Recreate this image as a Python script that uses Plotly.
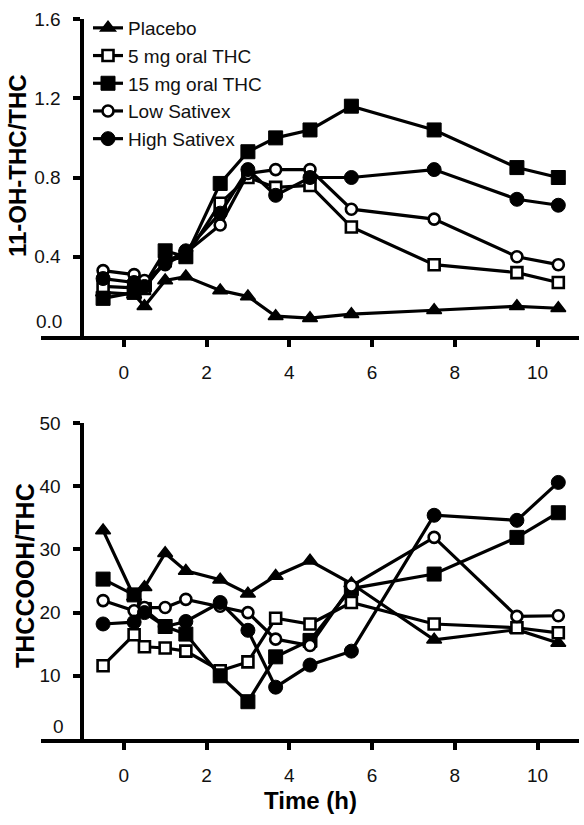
import plotly.graph_objects as go

# ---- data ----
times = [-0.5, 0.25, 0.5, 1, 1.5, 2.33, 3, 3.67, 4.5, 5.5, 7.5, 9.5, 10.5]
series_names = ["Placebo", "5 mg oral THC", "15 mg oral THC", "Low Sativex", "High Sativex"]

# 11-OH-THC/THC (top panel)
placebo_top = [0.22, 0.21, 0.15, 0.28, 0.30, 0.23, 0.20, 0.10, 0.09, 0.11, 0.13, 0.15, 0.14]
oral5_top = [0.25, 0.24, 0.24, 0.38, 0.40, 0.67, 0.80, 0.75, 0.76, 0.55, 0.36, 0.32, 0.27]
oral15_top = [0.19, 0.22, 0.26, 0.43, 0.40, 0.77, 0.93, 1.00, 1.04, 1.16, 1.04, 0.85, 0.80]
low_top = [0.33, 0.31, 0.28, 0.36, 0.42, 0.56, 0.82, 0.84, 0.84, 0.64, 0.59, 0.40, 0.36]
high_top = [0.29, 0.27, 0.25, 0.37, 0.43, 0.62, 0.84, 0.71, 0.80, 0.80, 0.84, 0.69, 0.66]

# THCCOOH/THC (bottom panel)
placebo_bot = [33.0, 22.5, 24.0, 29.4, 26.6, 25.2, 23.0, 25.8, 28.2, 24.6, 15.7, 17.3, 15.2]
oral5_bot = [11.6, 16.5, 14.6, 14.4, 13.9, 10.8, 12.2, 19.1, 18.2, 21.6, 18.2, 17.6, 16.8]
oral15_bot = [25.3, 22.8, 20.5, 17.8, 16.6, 10.0, 5.9, 13.0, 15.6, 23.8, 26.1, 31.9, 35.8]
low_bot = [21.9, 20.3, 20.8, 20.8, 22.1, 21.0, 20.0, 15.8, 14.8, 24.2, 31.9, 19.4, 19.5]
high_bot = [18.2, 18.5, 20.0, 17.8, 18.6, 21.6, 17.2, 8.2, 11.7, 13.9, 35.4, 34.6, 40.6]

x_ticks = [0, 2, 4, 6, 8, 10]
top_ticks = [0.4, 0.8, 1.2, 1.6]
top_ticktext = ["0.4", "0.8", "1.2", "1.6"]
bot_ticks = [10, 20, 30, 40, 50]
bot_ticktext = ["10", "20", "30", "40", "50"]

# ---- styling ----
FONT = "Liberation Sans, Arial, sans-serif"
markers = [
    dict(symbol="triangle-up", size=13, color="black", line=dict(color="black", width=1.5)),
    dict(symbol="square", size=11, color="white", line=dict(color="black", width=2.6)),
    dict(symbol="square", size=14, color="black", line=dict(color="black", width=1)),
    dict(symbol="circle", size=11, color="white", line=dict(color="black", width=2.6)),
    dict(symbol="circle", size=14, color="black", line=dict(color="black", width=1)),
]

top_data = [placebo_top, oral5_top, oral15_top, low_top, high_top]
bot_data = [placebo_bot, oral5_bot, oral15_bot, low_bot, high_bot]

fig = go.Figure()
for i, (name, vals) in enumerate(zip(series_names, top_data)):
    fig.add_trace(go.Scatter(
        x=times, y=vals, name=name, mode="lines+markers",
        line=dict(color="black", width=3.2), marker=markers[i],
        xaxis="x", yaxis="y", legendgroup=name, cliponaxis=False,
    ))
for i, (name, vals) in enumerate(zip(series_names, bot_data)):
    fig.add_trace(go.Scatter(
        x=times, y=vals, name=name, mode="lines+markers",
        line=dict(color="black", width=3.2), marker=markers[i],
        xaxis="x2", yaxis="y2", legendgroup=name, showlegend=False, cliponaxis=False,
    ))

# body margin removed via post_script, so figure pixels == page pixels
W, H = 584, 825
L, R, T, B = 41, 5, 19, 86
pw, ph = W - L - R, H - T - B

def py(p):  # page pixel y -> paper
    return (H - B - p) / ph

def px(p):  # page pixel x -> paper
    return (p - L) / pw

xr = [-2, 11]
ypos = (-1 - xr[0]) / (xr[1] - xr[0])

axis_common = dict(
    showline=True, linewidth=4, linecolor="black", showgrid=False, zeroline=False,
    ticks="outside", ticklen=7, tickwidth=3.5, tickcolor="black",
    tickfont=dict(family=FONT, size=19, color="#111"),
)

fig.update_layout(
    width=W, height=H,
    margin=dict(l=L, r=R, t=T, b=B),
    paper_bgcolor="white", plot_bgcolor="white",
    font=dict(family=FONT, color="black"),
    xaxis=dict(domain=[0, 1], range=xr, anchor="y", tickvals=x_ticks,
               ticklabelstandoff=9, **axis_common),
    yaxis=dict(domain=[py(336), 1], range=[0, 1.6], anchor="free", position=ypos,
               tickvals=top_ticks, ticktext=top_ticktext, ticklabelstandoff=9, **axis_common),
    xaxis2=dict(domain=[0, 1], range=xr, anchor="y2", tickvals=x_ticks,
                ticklabelstandoff=9, **axis_common),
    yaxis2=dict(domain=[0, py(423)], range=[0, 50], anchor="free", position=ypos,
                tickvals=bot_ticks, ticktext=bot_ticktext, ticklabelstandoff=9, **axis_common),
    legend=dict(x=px(88), y=py(9), xanchor="left", yanchor="top",
                font=dict(family=FONT, size=19, color="#111"),
                bgcolor="rgba(0,0,0,0)", tracegroupgap=0, itemwidth=30),
    showlegend=True,
)

annotations = [
    dict(text="0.0", x=px(64), y=py(322), xref="paper", yref="paper",
         xanchor="right", yanchor="middle", showarrow=False,
         font=dict(family=FONT, size=19, color="#111")),
    dict(text="0", x=px(66), y=py(726), xref="paper", yref="paper",
         xanchor="right", yanchor="middle", showarrow=False,
         font=dict(family=FONT, size=19, color="#111")),
    dict(text="<b>11-OH-THC/THC</b>", x=px(17), y=py(166), xref="paper", yref="paper",
         textangle=-90, xanchor="center", yanchor="middle", showarrow=False,
         font=dict(family=FONT, size=24, color="black")),
    dict(text="<b>THCCOOH/THC</b>", x=px(25), y=py(576), xref="paper", yref="paper",
         textangle=-90, xanchor="center", yanchor="middle", showarrow=False,
         font=dict(family=FONT, size=25, color="black")),
    dict(text="<b>Time (h)</b>", x=px(310), y=py(800), xref="paper", yref="paper",
         xanchor="center", yanchor="middle", showarrow=False,
         font=dict(family=FONT, size=24, color="black")),
]
fig.update_layout(annotations=annotations)

fig.write_html(
    "out.html",
    config={"displayModeBar": False},
    post_script="document.body.style.margin='0';document.body.style.overflow='hidden';",
)
